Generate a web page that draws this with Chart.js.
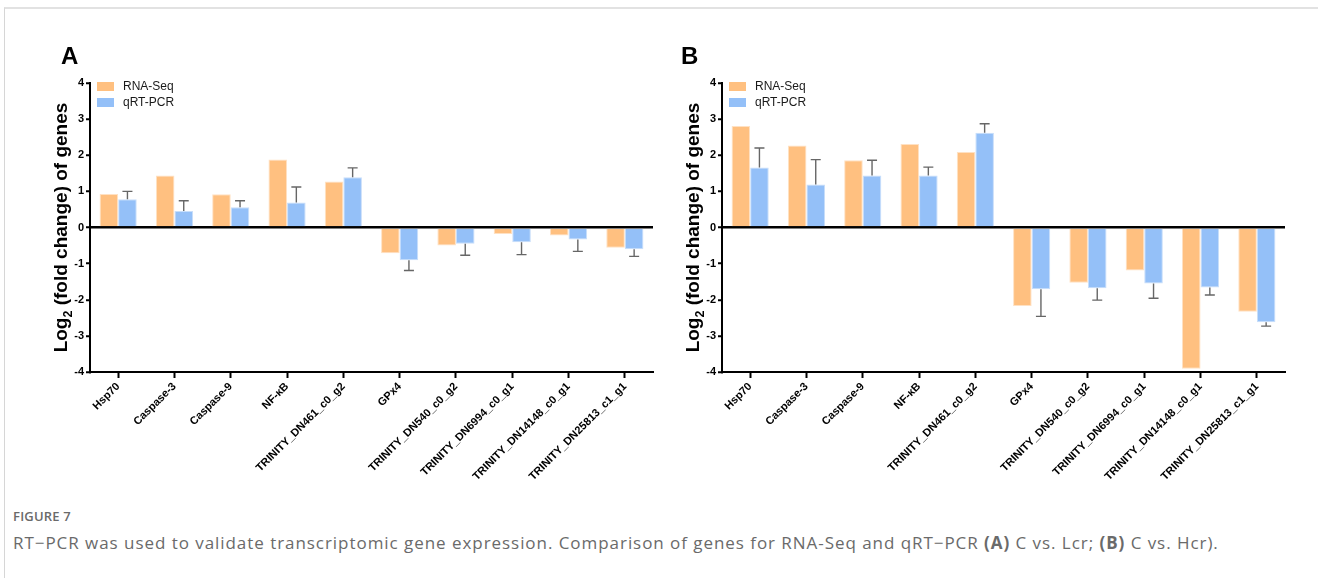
<!DOCTYPE html>
<html><head><meta charset="utf-8">
<script src="https://cdn.jsdelivr.net/npm/chart.js@4.4.1/dist/chart.umd.min.js"></script>
<style>
html,body{margin:0;padding:0;background:#fff;}
body{width:1318px;height:578px;position:relative;overflow:hidden;font-family:Arial,"Liberation Sans",sans-serif;}
#frame{position:absolute;left:4px;top:7px;width:1330px;height:600px;border-top:2px solid #e2e2e2;border-left:1px solid #d6d6d6;}
.wrap{position:absolute;top:0;width:660px;height:500px;}
#wrapA{left:0;}
#wrapB{left:632px;}
.letter{position:absolute;font:bold 24px Arial,"Liberation Sans",sans-serif;color:#000;line-height:1;}
#cap1{position:absolute;left:13px;top:507px;font:600 13px "Open Sans",sans-serif;color:#6a6a6a;letter-spacing:0.2px;}
#cap2{position:absolute;left:13px;top:531px;font:400 17px "Open Sans",sans-serif;color:#6a6a6a;white-space:nowrap;letter-spacing:0.95px;}
#cap2 b{font-weight:700;}
</style>
</head><body>
<div id="frame"></div>
<div class="wrap" id="wrapA"><canvas id="cA" width="660" height="500"></canvas></div>
<div class="wrap" id="wrapB"><canvas id="cB" width="660" height="500"></canvas></div>
<div class="letter" style="left:61px;top:44px;">A</div>
<div class="letter" style="left:681px;top:44px;">B</div>
<div id="cap1">FIGURE 7</div>
<div id="cap2">RT−PCR was used to validate transcriptomic gene expression. Comparison of genes for RNA-Seq and qRT−PCR <b>(A)</b> C vs. Lcr; <b>(B)</b> C vs. Hcr).</div>
<script>
const genes = ["Hsp70","Caspase-3","Caspase-9","NF-κB","TRINITY_DN461_c0_g2","GPx4","TRINITY_DN540_c0_g2","TRINITY_DN6994_c0_g1","TRINITY_DN14148_c0_g1","TRINITY_DN25813_c1_g1"];
const yTicks = [-4,-3,-2,-1,0,1,2,3,4];
const seriesNames = ["RNA-Seq","qRT-PCR"];

const rnaSeqA = [0.93, 1.44, 0.92, 1.88, 1.27, -0.71, -0.50, -0.18, -0.22, -0.56];
const qpcrA   = [0.78, 0.46, 0.56, 0.69, 1.39, -0.91, -0.45, -0.41, -0.33, -0.60];
const qpcrErrA= [0.22, 0.28, 0.18, 0.43, 0.26, 0.28, 0.32, 0.34, 0.33, 0.20];

const rnaSeqB = [2.81, 2.27, 1.86, 2.31, 2.09, -2.17, -1.53, -1.19, -3.91, -2.33];
const qpcrB   = [1.66, 1.19, 1.44, 1.44, 2.62, -1.71, -1.68, -1.55, -1.66, -2.62];
const qpcrErrB= [0.54, 0.69, 0.42, 0.23, 0.25, 0.75, 0.33, 0.41, 0.21, 0.11];

const ORANGE = "rgb(255,192,128)";
const BLUE = "rgb(148,192,248)";

const errorBars = {
  id:"errorBars",
  afterDatasetsDraw(chart){
    const ctx = chart.ctx, y = chart.scales.y;
    chart.data.datasets.forEach((ds,di)=>{
      if(!ds.errors) return;
      const meta = chart.getDatasetMeta(di);
      meta.data.forEach((bar,i)=>{
        const v = ds.data[i], e = ds.errors[i];
        const end = v + (v>=0?1:-1)*e;
        const y1 = y.getPixelForValue(v), y2 = y.getPixelForValue(end);
        ctx.save();
        ctx.strokeStyle="#666"; ctx.lineWidth=1.4;
        ctx.beginPath();
        ctx.moveTo(bar.x, y1); ctx.lineTo(bar.x, y2);
        ctx.moveTo(bar.x-5, y2); ctx.lineTo(bar.x+5, y2);
        ctx.stroke();
        ctx.restore();
      });
    });
  }
};

const legendIn = {
  id:"legendIn",
  afterDraw(chart){
    const ctx = chart.ctx, a = chart.chartArea;
    chart.data.datasets.forEach((ds,i)=>{
      const bx = a.left+7, by = a.top - 1 + i*16;
      ctx.save();
      ctx.fillStyle = ds.backgroundColor;
      ctx.fillRect(bx, by, 17, 9);
      ctx.fillStyle="#1a1a1a";
      ctx.font="12px Arial, 'Liberation Sans', sans-serif";
      ctx.textBaseline="middle";
      ctx.fillText(ds.label, bx+26, by+5);
      ctx.restore();
    });
  }
};

const yTitle = {
  id:"yTitle",
  afterDraw(chart){
    const ctx = chart.ctx, a = chart.chartArea;
    const big = "bold 19px Arial, 'Liberation Sans', sans-serif";
    const small = "bold 12.5px Arial, 'Liberation Sans', sans-serif";
    const p1 = "Log", p2 = "2", p3 = " (fold change) of genes";
    ctx.save();
    ctx.font = big; const w1 = ctx.measureText(p1).width, w3 = ctx.measureText(p3).width;
    ctx.font = small; const w2 = ctx.measureText(p2).width;
    const total = w1+w2+w3;
    const cx = 67, cy = (a.top+a.bottom)/2;
    ctx.translate(cx, cy); ctx.rotate(-Math.PI/2);
    ctx.fillStyle="#000"; ctx.textBaseline="alphabetic";
    let x = -total/2;
    ctx.font = big; ctx.fillText(p1, x, 0); x+=w1;
    ctx.font = small; ctx.fillText(p2, x, 5); x+=w2;
    ctx.font = big; ctx.fillText(p3, x, 0);
    ctx.restore();
  }
};

function makeChart(id, rna, qpcr, err){
  return new Chart(document.getElementById(id), {
    type:"bar",
    data:{
      labels: genes,
      datasets:[
        {label:seriesNames[0], data:rna, backgroundColor:ORANGE, borderColor:"rgba(255,225,195,1)", borderWidth:1, barPercentage:1, categoryPercentage:0.66},
        {label:seriesNames[1], data:qpcr, errors:err, backgroundColor:BLUE, borderColor:"rgba(200,222,250,1)", borderWidth:1, barPercentage:1, categoryPercentage:0.66}
      ]
    },
    options:{
      responsive:false, animation:false, devicePixelRatio:1,
      layout:{padding:{left:0, top:83, right:7, bottom:0}},
      plugins:{legend:{display:false}, tooltip:{enabled:false}},
      scales:{
        x:{
          grid:{display:true, drawOnChartArea:false, offset:false, tickLength:6, tickColor:"#000", tickWidth:2},
          border:{display:true, color:"#000", width:2},
          ticks:{autoSkip:false, minRotation:45, maxRotation:45, color:"#000", padding:2,
                 font:{family:"Arial, 'Liberation Sans', sans-serif", size:11, weight:"bold"}},
          afterFit(s){ s.height = 128; }
        },
        y:{
          min:-4, max:4,
          afterBuildTicks(s){ s.ticks = yTicks.map(v=>({value:v})); },
          grid:{display:true, drawOnChartArea:true, tickLength:4, tickWidth:2, tickColor:"#000",
                color:(c)=> (c.tick && c.tick.value===0) ? "#000" : "rgba(0,0,0,0)", lineWidth:2.5},
          border:{display:true, color:"#000", width:2},
          ticks:{color:"#000", padding:2, font:{family:"Arial, 'Liberation Sans', sans-serif", size:11, weight:"bold"}},
          afterFit(s){ s.width = 90; }
        }
      }
    },
    plugins:[errorBars, legendIn, yTitle]
  });
}
makeChart("cA", rnaSeqA, qpcrA, qpcrErrA);
makeChart("cB", rnaSeqB, qpcrB, qpcrErrB);
</script>
</body></html>
